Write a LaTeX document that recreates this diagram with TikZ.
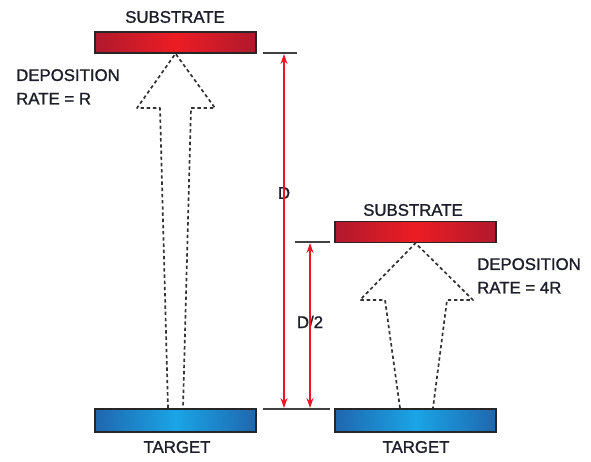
\documentclass[tikz,border=0pt]{standalone}
\usepackage{fontspec}
\setmainfont[FakeBold=1.3]{Liberation Sans}
\usetikzlibrary{arrows.meta}
\definecolor{txt}{HTML}{1E1E2A}
\definecolor{redE}{HTML}{B0192C}
\definecolor{redC}{HTML}{EC1C24}
\definecolor{bluE}{HTML}{1F67AE}
\definecolor{bluC}{HTML}{1AA5E6}
\definecolor{dimred}{HTML}{F0142A}
\definecolor{dashgray}{HTML}{333333}
\tikzset{
  plate/.style={draw=black!85, line width=1.2pt, minimum width=161pt, inner sep=0pt},
  substr/.style={plate, minimum height=21pt, left color=redE, right color=redE, middle color=redC},
  targ/.style={plate, minimum height=23pt, left color=bluE, right color=bluE, middle color=bluC},
  lbl/.style={text=txt, font=\fontsize{16.8}{19}\selectfont, inner sep=0pt},
  multi/.style={lbl, align=left, font=\fontsize{16.8}{23.5}\selectfont},
  flux/.style={draw=dashgray, line width=1.7pt, dash pattern=on 3.4pt off 2.8pt, line join=round},
  tick/.style={draw=black!75, line width=1.8pt},
  dim/.style={draw=dimred, line width=1.6pt, -{Stealth[length=10pt,width=7pt]}},
}
\begin{document}
\begin{tikzpicture}[x=1pt,y=-1pt]
\useasboundingbox (0,0) rectangle (591,461);
% plates
\node[substr] (s1) at (175.5,42.5) {};
\node[targ] (t1) at (175.5,420.5) {};
\node[substr] (s2) at (415.5,232) {};
\node[targ] (t2) at (415.5,420.5) {};
% labels
\node[lbl] (ls1) at (175,17) {SUBSTRATE};
\node[lbl] (ls2) at (413,210) {SUBSTRATE};
\node[lbl] (lt1) at (177,447) {TARGET};
\node[lbl] (lt2) at (416,447) {TARGET};
\node[multi, anchor=north west] (r1) at (16,69) {DEPOSITION\\RATE = R};
\node[multi, anchor=north west] (r2) at (477,258) {DEPOSITION\\RATE = 4R};
% flux arrows
\coordinate (a1) at (168,408);
\coordinate (a2) at (160,108);
\coordinate (a3) at (137,108);
\coordinate (a5) at (215,108);
\coordinate (a6) at (191,108);
\coordinate (a7) at (183,408);
\draw[flux] (a1) -- (a2) -- (a3) -- (s1.south) -- (a5) -- (a6) -- (a7);
\coordinate (b1) at (400,408);
\coordinate (b2) at (385,300);
\coordinate (b3) at (360,300);
\coordinate (b5) at (473,300);
\coordinate (b6) at (447,300);
\coordinate (b7) at (433,408);
\draw[flux] (b1) -- (b2) -- (b3) -- (s2.south) -- (b5) -- (b6) -- (b7);
% ticks
\coordinate (k1a) at (263,53);
\coordinate (k1b) at (297,53);
\coordinate (k2a) at (295,242);
\coordinate (k2b) at (330,242);
\coordinate (k3a) at (263,409);
\coordinate (k3b) at (330,409);
\draw[tick] (k1a) -- (k1b);
\draw[tick] (k2a) -- (k2b);
\draw[tick] (k3a) -- (k3b);
% dimension arrows
\node[lbl] (dD) at (284,193) {D};
\node[lbl] (dH) at (310,322) {D/2};
\coordinate (dDt) at (284,54);
\coordinate (dDb) at (284,408);
\coordinate (dHt) at (310,243);
\coordinate (dHb) at (310,408);
\draw[dim] ([yshift=-15pt]dD.center) -- (dDt);
\draw[dim] ([yshift=15pt]dD.center) -- (dDb);
\draw[dim] ([yshift=-15pt]dH.center) -- (dHt);
\draw[dim] ([yshift=15pt]dH.center) -- (dHb);
\end{tikzpicture}
\end{document}
